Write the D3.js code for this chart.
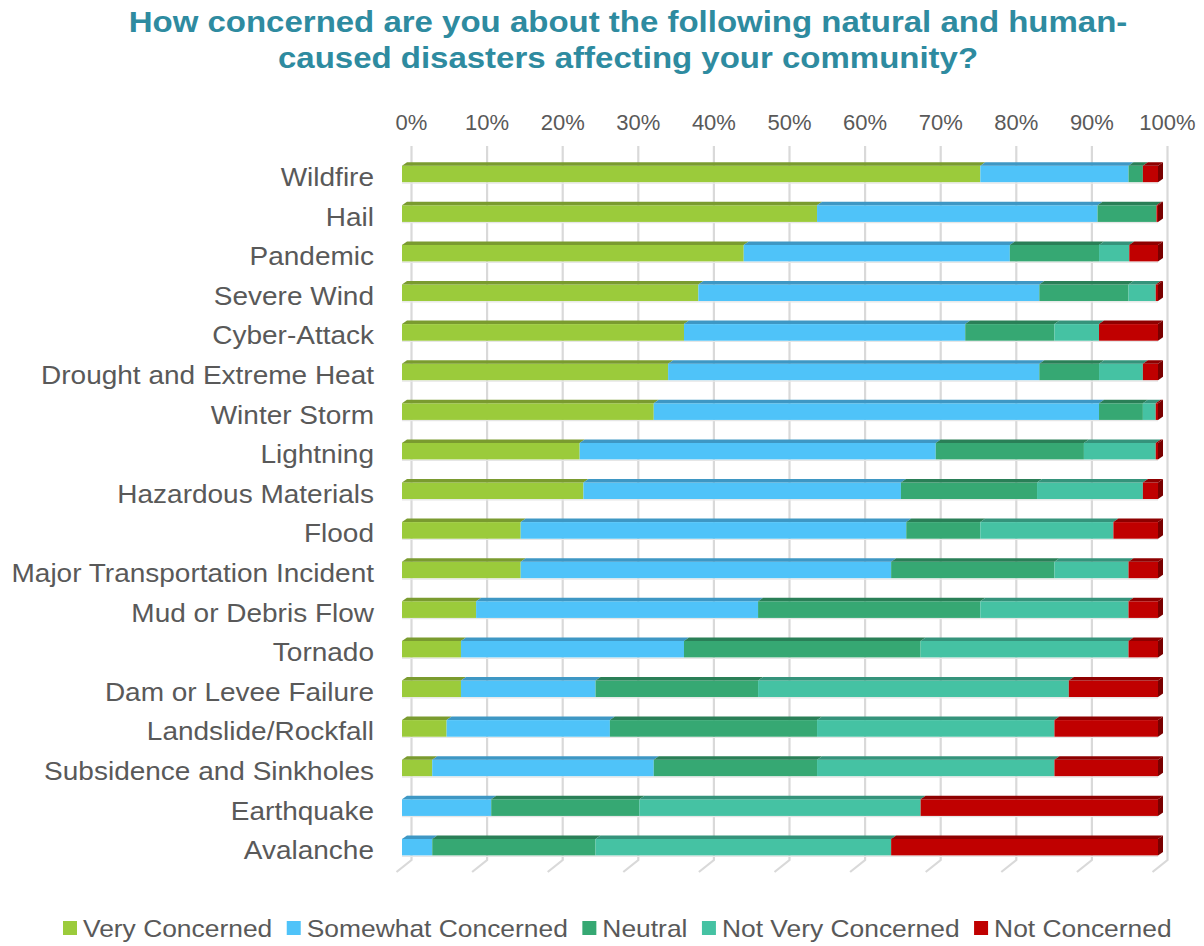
<!DOCTYPE html>
<html>
<head>
<meta charset="utf-8">
<script src="https://cdn.jsdelivr.net/npm/d3@7"></script>
<style>
  html, body { margin: 0; padding: 0; background: #fff; }
  svg { display: block; font-family: "Liberation Sans", Arial, sans-serif; }
</style>
</head>
<body>
<svg id="chart" width="1204" height="946"></svg>
<script>
const categories = ["Wildfire","Hail","Pandemic","Severe Wind","Cyber-Attack","Drought and Extreme Heat","Winter Storm","Lightning","Hazardous Materials","Flood","Major Transportation Incident","Mud or Debris Flow","Tornado","Dam or Levee Failure","Landslide/Rockfall","Subsidence and Sinkholes","Earthquake","Avalanche"];
const seriesNames = ["Very Concerned","Somewhat Concerned","Neutral","Not Very Concerned","Not Concerned"];
const veryConcerned      = [76.5, 54.9, 45.2, 39.2, 37.3, 35.2, 33.3, 23.5, 24.0, 15.7, 15.7,  9.8,  7.8,  7.8,  5.9,  4.0,  0.0,  0.0];
const somewhatConcerned  = [19.6, 37.1, 35.2, 45.1, 37.2, 49.1, 58.9, 47.1, 42.0, 51.0, 49.0, 37.3, 29.5, 17.8, 21.6, 29.3, 11.8,  4.0];
const neutral            = [ 1.9,  7.8, 11.8, 11.8, 11.8,  7.9,  5.8, 19.6, 18.0,  9.8, 21.6, 29.4, 31.3, 21.5, 27.4, 21.6, 19.6, 21.6];
const notVeryConcerned   = [ 0.0,  0.0,  4.0,  3.6,  5.9,  5.8,  1.7,  9.5, 14.0, 17.6,  9.8, 19.6, 27.5, 41.1, 31.4, 31.4, 37.2, 39.1];
const notConcerned       = [ 2.0,  0.2,  3.8,  0.3,  7.8,  2.0,  0.3,  0.3,  2.0,  5.9,  3.9,  3.9,  3.9, 11.8, 13.7, 13.7, 31.4, 35.3];
const tickValues = [0,10,20,30,40,50,60,70,80,90,100];
const tickLabels = ["0%","10%","20%","30%","40%","50%","60%","70%","80%","90%","100%"];

const frontColors = ["#9BCB3B","#4FC3F9","#36A873","#45C2A3","#C00000"];
const topColors   = ["#7A9B2F","#3E97C4","#2A7F57","#35937B","#8E0000"];
const sideColors  = ["#6F8E2A","#3788B2","#256F4C","#2E806B","#7A0000"];

const seriesValues = [veryConcerned, somewhatConcerned, neutral, notVeryConcerned, notConcerned];

const svg = d3.select("#chart");
const x = d3.scaleLinear().domain([0,100]).range([402,1158]);
const y = d3.scaleBand().domain(categories).range([154.2, 867]).paddingInner(0.58).paddingOuter(0.29);
const dx = 5, dy = 3.5;      // bar depth
const gdx = 9.5;             // back wall offset for gridlines
const gridTop = 146, gridBottom = 860, floorDx = -15, floorDy = 12;

// Title
const titleLines = ["How concerned are you about the following natural and human-", "caused disasters affecting your community?"];
titleLines.forEach((line, i) => {
  svg.append("text")
    .attr("transform", `translate(628,${32 + i * 36}) scale(1.1,1)`)
    .attr("text-anchor", "middle")
    .attr("font-size", 30).attr("font-weight", "bold")
    .attr("fill", "#2E8BA0")
    .text(line);
});

// Gridlines
const grid = svg.append("g");
tickValues.forEach(v => {
  const xb = x(v) + gdx;
  grid.append("path")
    .attr("d", `M${xb},${gridTop} L${xb},${gridBottom} L${xb + floorDx},${gridBottom + floorDy}`)
    .attr("fill", "none").attr("stroke", "#D9D9D9").attr("stroke-width", 2.2);
});

// Top axis labels
svg.append("g").selectAll("text").data(tickValues).join("text")
  .attr("x", d => x(d) + gdx)
  .attr("y", 130)
  .attr("text-anchor", "middle")
  .attr("font-size", 22)
  .attr("fill", "#595959")
  .text((d, i) => tickLabels[i]);

// Category labels
svg.append("g").selectAll("text").data(categories).join("text")
  .attr("transform", d => `translate(374,${y(d) + y.bandwidth() / 2 + 12}) scale(1.12,1)`)
  .attr("text-anchor", "end")
  .attr("font-size", 25)
  .attr("fill", "#595959")
  .text(d => d);

// Bars
const bars = svg.append("g");
categories.forEach((cat, ci) => {
  const y0 = y(cat), h = y.bandwidth();
  let cum = 0;
  let lastIdx = -1, lastEnd = 0;
  seriesValues.forEach((vals, si) => {
    const v = vals[ci];
    if (v <= 0) return;
    const a = x(cum), b = x(cum + v);
    cum += v;
    bars.append("rect")
      .attr("x", a).attr("y", y0).attr("width", Math.max(0, b - a)).attr("height", h)
      .attr("fill", frontColors[si]);
    bars.append("path")
      .attr("d", `M${a},${y0} L${a + dx},${y0 - dy} L${b + dx},${y0 - dy} L${b},${y0} Z`)
      .attr("fill", topColors[si]);
    lastIdx = si; lastEnd = b;
  });
  if (lastIdx >= 0) {
    const b = lastEnd;
    bars.append("path")
      .attr("d", `M${b},${y0} L${b + dx},${y0 - dy} L${b + dx},${y0 + h - dy} L${b},${y0 + h} Z`)
      .attr("fill", sideColors[lastIdx]);
  }
  bars.append("line")
    .attr("x1", x(0)).attr("x2", lastEnd)
    .attr("y1", y0 + h + 0.8).attr("y2", y0 + h + 0.8)
    .attr("stroke", "#E6E6E6").attr("stroke-width", 1.2);
});

// Legend
const legend = svg.append("g");
let lx = 63;
const legendY = 928;
const legendStretch = 1.1;
seriesNames.forEach((name, i) => {
  legend.append("rect")
    .attr("x", lx).attr("y", legendY - 7).attr("width", 14).attr("height", 14)
    .attr("fill", frontColors[i]);
  const t = legend.append("text")
    .attr("transform", `translate(${lx + 20},${legendY + 8.5}) scale(${legendStretch},1)`)
    .attr("font-size", 24).attr("fill", "#595959")
    .text(name);
  lx += 20 + t.node().getComputedTextLength() * legendStretch + 14.5;
});
</script>
</body>
</html>
